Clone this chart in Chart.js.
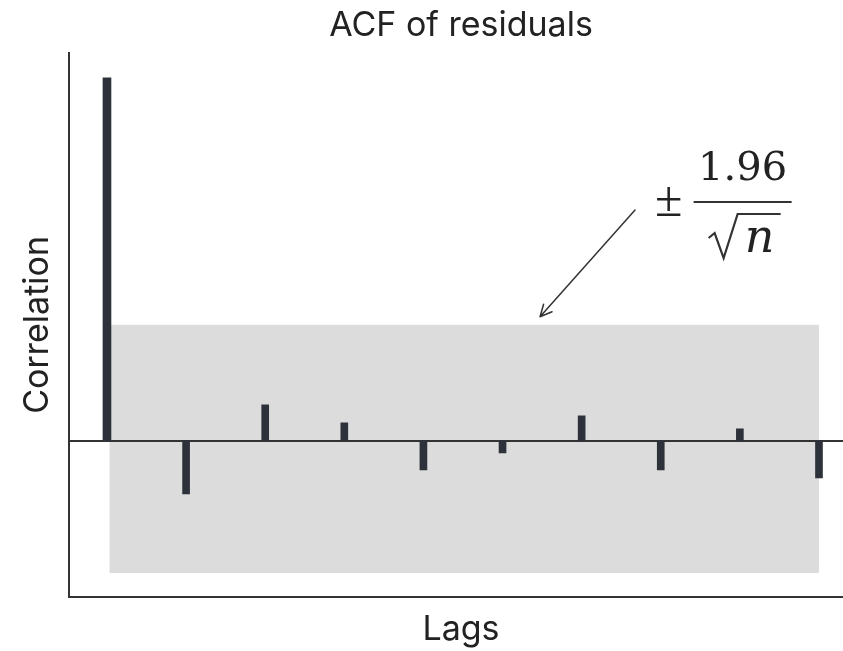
<!DOCTYPE html>
<html>
<head>
<meta charset="utf-8">
<script src="https://cdn.jsdelivr.net/npm/chart.js@4"></script>
<style>
  html, body { margin: 0; padding: 0; background: #fff; overflow: hidden; }
  #wrap { width: 853px; height: 651px; }
</style>
</head>
<body>
<div id="wrap"><canvas id="acf"></canvas></div>
<script>
// ACF values per lag
const LAGS = [0, 1, 2, 3, 4, 5, 6, 7, 8, 9];
const ACF = [1.0, -0.146, 0.099, 0.05, -0.08, -0.033, 0.069, -0.08, 0.033, -0.102];
// confidence band (upper / lower) and its lag extent
const BAND_Y = [0.32, -0.364];
const BAND_X = [0.03, 9];
// axis ranges (plot runs a little past the right edge of the window)
const X_RANGE = [-0.48, 9.43];
const Y_RANGE = [-0.43, 1.069];
// annotation arrow (from, to) and formula anchor in data units
const ARROW_FROM = [6.675, 0.636];
const ARROW_TO = [5.474, 0.342];
const FORMULA_AT = [8.035, 0.658];

const INK = "#2d323a";
const AXIS = "#333333";
const BAND = "#dcdcdc";
const FONT = "Inter, 'Noto Sans', sans-serif";
const MATH = "'DejaVu Serif', serif";

const pts = (xs, ys) => xs.map((x, i) => ({ x, y: ys[i] }));

// Draw the arrow and the ±1.96/√n label on top of the plot.
const annotationPlugin = {
  id: "annotation",
  afterDraw(chart) {
    const { ctx, scales } = chart;
    const px = (p) => [scales.x.getPixelForValue(p[0]), scales.y.getPixelForValue(p[1])];
    const [x0, y0] = px(ARROW_FROM);
    const [x1, y1] = px(ARROW_TO);

    ctx.save();
    ctx.strokeStyle = AXIS;
    ctx.lineWidth = 1.5;
    ctx.lineCap = "round";
    ctx.beginPath();
    ctx.moveTo(x0, y0);
    ctx.lineTo(x1, y1);
    const ang = Math.atan2(y1 - y0, x1 - x0);
    const head = 13;
    [0.45, -0.45].forEach((d) => {
      ctx.moveTo(x1, y1);
      ctx.lineTo(x1 - head * Math.cos(ang + d), y1 - head * Math.sin(ang + d));
    });
    ctx.stroke();

    // formula, centred on the fraction bar
    const [fx, fy] = px(FORMULA_AT);
    ctx.fillStyle = "#222";
    ctx.textBaseline = "alphabetic";
    ctx.textAlign = "center";
    ctx.font = `40px ${MATH}`;
    ctx.fillText("1.96", fx, fy - 22);
    ctx.font = "50px 'Liberation Serif', serif";
    ctx.fillText("\u00b1", fx - 74, fy + 14);

    ctx.lineWidth = 2;
    ctx.lineCap = "butt";
    ctx.beginPath();
    ctx.moveTo(fx - 49, fy);
    ctx.lineTo(fx + 49, fy);
    ctx.stroke();

    // radical sign
    ctx.lineWidth = 2.2;
    ctx.lineJoin = "miter";
    ctx.beginPath();
    ctx.moveTo(fx - 34, fy + 36);
    ctx.lineTo(fx - 28, fy + 31);
    ctx.lineTo(fx - 19, fy + 56);
    ctx.lineTo(fx - 5, fy + 12);
    ctx.lineTo(fx + 38, fy + 12);
    ctx.stroke();

    ctx.font = `italic 46px ${MATH}`;
    ctx.fillText("n", fx + 17, fy + 50);
    ctx.restore();
  },
};

new Chart(document.getElementById("acf"), {
  type: "bar",
  data: {
    datasets: [
      {
        type: "bar",
        data: pts(LAGS.slice(0, 1), ACF.slice(0, 1)),
        backgroundColor: INK,
        barThickness: 8,
        grouped: false,
        order: 1,
      },
      {
        type: "bar",
        data: pts(LAGS.slice(1), ACF.slice(1)),
        backgroundColor: INK,
        barThickness: 7,
        grouped: false,
        order: 1,
      },
      {
        type: "line",
        data: pts(X_RANGE, [0, 0]),
        borderColor: AXIS,
        borderWidth: 2,
        pointRadius: 0,
        order: 2,
      },
      {
        type: "line",
        data: pts(BAND_X, [BAND_Y[0], BAND_Y[0]]),
        borderWidth: 0,
        pointRadius: 0,
        backgroundColor: BAND,
        fill: "+1",
        order: 3,
      },
      {
        type: "line",
        data: pts(BAND_X, [BAND_Y[1], BAND_Y[1]]),
        borderWidth: 0,
        pointRadius: 0,
        fill: false,
        order: 3,
      },
    ],
  },
  options: {
    responsive: true,
    maintainAspectRatio: false,
    animation: false,
    layout: { padding: 0 },
    plugins: {
      legend: { display: false },
      tooltip: { enabled: false },
      title: {
        display: true,
        text: "ACF of residuals",
        fullSize: false,
        color: "#222",
        font: { family: FONT, size: 34, weight: "normal" },
        padding: { top: 5, bottom: 7 },
      },
    },
    scales: {
      x: {
        type: "linear",
        min: X_RANGE[0],
        max: X_RANGE[1],
        offset: false,
        grid: { display: false },
        ticks: { display: false },
        border: { display: true, color: AXIS, width: 2 },
        title: {
          display: true,
          text: "Lags",
          color: "#222",
          font: { family: FONT, size: 34 },
          padding: { top: 0, bottom: 1 },
        },
        afterFit(scale) {
          scale.height = 54;
        },
      },
      y: {
        min: Y_RANGE[0],
        max: Y_RANGE[1],
        grid: { display: false },
        ticks: { display: false },
        border: { display: true, color: AXIS, width: 2 },
        title: {
          display: true,
          text: "Correlation",
          color: "#222",
          font: { family: FONT, size: 34 },
          padding: { top: 17, bottom: 0 },
        },
        afterFit(scale) {
          scale.width = 69;
        },
      },
    },
  },
  plugins: [annotationPlugin],
});
</script>
</body>
</html>
